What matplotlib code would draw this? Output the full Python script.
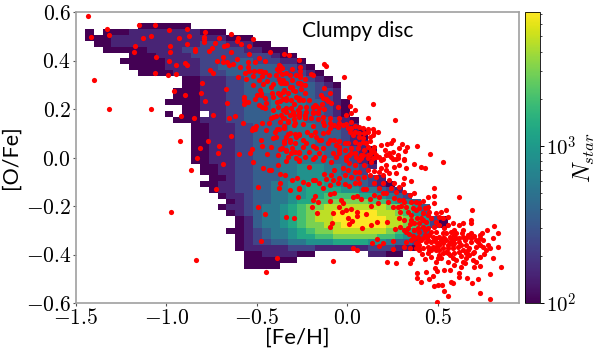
import numpy as np
import matplotlib
matplotlib.use('Agg')
import matplotlib.pyplot as plt
from matplotlib.colors import LogNorm

plt.rcParams['mathtext.fontset'] = 'cm'
plt.rcParams['font.family'] = 'Lato'

# 2d histogram: first column of each row and colour level per cell, top row first
# levels are tenths of the colourbar, x = top, . = empty
row_start = [6, 0, 0, 1, 2, 5, 4, 5, 6, 11, 11, 10, 10, 9, 11, 9, 10, 12, 12, 12, 12,
             12, 12, 12, 13, 13, 14, 13, 14, 15, 16, 15, 16, 17, 17, 16, 17, 17, 17, 18, 18, 18]
row_levels = [
    "000000",
    "0.00011111111000",
    "0001111111111111000",
    "00111111111122211100",
    "000001111222222211000",
    "0001111222222222100",
    "000001111222233222110",
    "000011112233333332210",
    "000011122233333332210",
    "00111223333333210",
    "001112233444333210",
    "0001112233444433221",
    "0001112233344433221",
    "000011122333444433210",
    "0011122333444433210",
    "0.00.1122333444333210",
    "000111223333444333210",
    "0011122333344433221",
    "00111223333444333210",
    "00111223333444333210",
    "00111223333444333211",
    "001112233334444333210",
    "001112233344444333210",
    "001112233344444433210",
    "00112233344555443321",
    "0011223334455544332",
    "00122333445555443321",
    "0011223344556655443210",
    "0112233445566665544321",
    "0112334455667777665432",
    "0123344566778888776543",
    "011234456788999999988753",
    "012344567899xxxxx998753",
    "01344567899xxxxxx9987520",
    "013445678899xxxxx9987520",
    "00123445678899999987643",
    "0123445667788888776543",
    "012233445556666554332",
    "011111222111111222110",
    "00111100......1100",
    "000000",
    "0000",
]

# stars on the upper ridge
fe_h_ridge = [-1.431, -1.418, -1.403, -1.315, -1.331, -1.318, -1.153, -1.062, -0.985, -0.889,
              -0.874, -0.930, -1.084, -1.132, -1.173, -1.178, -1.060, -1.062, -0.989, -0.946,
              -0.987, -0.983, -0.981, -0.948, -0.895, -0.886, -1.088, -0.961, -0.895, -0.803,
              -0.812, -0.786, -0.919, -0.849, -0.742, -0.928, -0.886, -0.843, -0.841, -0.795,
              -0.788, -0.792, -0.790, -0.764, -0.747, -0.731, -0.712, -0.642, -0.606, -0.613,
              -0.587, -0.521, -0.543, -0.543, -0.681, -0.664, -0.642, -0.429, -0.348, -0.322,
              -0.722, -0.688, -0.685, -0.664, -0.655, -0.633, -0.611, -0.593, -0.757, -0.742,
              -0.670, -0.666, -0.652, -0.620, -0.578, -0.644, -0.769, -0.814, -0.709, -0.716,
              -0.834, -0.604, -0.558, -0.565, -0.548, -0.547, -0.510, -0.491, -0.458, -0.545,
              -0.519, -0.521, -0.523, -0.467, -0.447, -0.488, -0.475, -0.458, -0.473, -0.410,
              -0.423, -0.388, -0.375, -0.364, -0.309, -0.267, -0.574, -0.572, -0.570, -0.547,
              -0.513, -0.501, -0.478, -0.482, -0.475, -0.453, -0.419, -0.388, -0.372, -0.355,
              -0.302, -0.348, -0.327, -0.366, -0.351, -0.338, -0.309, -0.379, -0.488, -0.473,
              -0.458, -0.412, -0.384, -0.338, -0.294, -0.410, -0.421, -0.394, -0.368, -0.353,
              -0.320, -0.298, -0.270, -0.471, -0.504, -0.521, -0.526, -0.513, -0.449, -0.388,
              -0.379, -0.353, -0.348, -0.475, -0.471, -0.414, -0.397, -0.353, -0.338, -0.329,
              -0.316, -0.289, -0.270, -0.372, -0.338, -0.526, -0.541, -0.598, -0.445, -0.289,
              -0.270]
o_fe_ridge = [0.585, 0.495, 0.320, 0.199, 0.528, 0.504, 0.545, 0.548, 0.526, 0.528,
              0.502, 0.494, 0.502, 0.494, 0.458, 0.435, 0.413, 0.348, 0.341, 0.346,
              0.396, 0.460, 0.436, 0.380, 0.390, 0.380, 0.199, 0.274, 0.256, 0.306,
              0.266, 0.233, 0.172, 0.163, 0.175, 0.067, 0.469, 0.447, 0.439, 0.498,
              0.516, 0.487, 0.476, 0.440, 0.453, 0.472, 0.494, 0.509, 0.493, 0.482,
              0.467, 0.490, 0.458, 0.428, 0.461, 0.464, 0.435, 0.435, 0.428, 0.423,
              0.398, 0.416, 0.395, 0.392, 0.380, 0.387, 0.405, 0.375, 0.362, 0.350,
              0.284, 0.223, 0.163, 0.171, 0.141, 0.087, 0.067, 0.040, 0.049, 0.017,
              -0.002, 0.330, 0.325, 0.348, 0.375, 0.394, 0.392, 0.410, 0.398, 0.358,
              0.355, 0.337, 0.298, 0.304, 0.317, 0.355, 0.355, 0.354, 0.336, 0.303,
              0.289, 0.365, 0.377, 0.344, 0.364, 0.402, 0.248, 0.237, 0.222, 0.230,
              0.241, 0.258, 0.266, 0.277, 0.258, 0.247, 0.265, 0.230, 0.233, 0.240,
              0.278, 0.278, 0.267, 0.306, 0.306, 0.306, 0.320, 0.324, 0.215, 0.209,
              0.203, 0.196, 0.207, 0.205, 0.219, 0.168, 0.164, 0.170, 0.175, 0.161,
              0.175, 0.175, 0.178, 0.141, 0.128, 0.120, 0.113, 0.116, 0.113, 0.116,
              0.116, 0.130, 0.120, 0.072, 0.049, 0.082, 0.086, 0.068, 0.083, 0.095,
              0.100, 0.095, 0.093, 0.034, 0.027, 0.034, 0.017, 0.014, 0.014, 0.024,
              0.020]

# stars around the clump, left side and far outliers
fe_h_left = [-0.687, -0.867, -0.521, -0.464, -0.434, -0.423, -0.381, -0.340, -0.268, -0.372,
             -0.344, -0.370, -0.309, -0.281, -0.729, -0.495, -0.379, -0.318, -0.268, -0.272,
             -0.976, -0.493, -0.453, -0.342, -0.298, -0.480, -0.388, -0.838, -0.449]
o_fe_left = [-0.027, -0.050, -0.017, -0.043, -0.052, -0.053, -0.032, -0.014, -0.010, -0.069,
             -0.072, -0.105, -0.091, -0.086, -0.131, -0.120, -0.127, -0.133, -0.130, -0.163,
             -0.223, -0.206, -0.233, -0.244, -0.250, -0.344, -0.415, -0.424, -0.471]

# upper middle of the ridge down to solar [O/Fe]
fe_h_mid = [-0.127, -0.120, -0.017, 0.140, 0.007, 0.039, 0.112, 0.262, 0.387, 0.455,
            0.330, 0.304, 0.317, 0.287, 0.252, 0.241, 0.217, 0.186, 0.142, 0.112,
            0.170, 0.149, 0.142, -0.260, -0.261, -0.376, -0.256, -0.232, -0.260, -0.289,
            -0.256, -0.232, -0.260, -0.228, -0.191, -0.173, -0.142, -0.127, -0.090, -0.118,
            -0.109, -0.096, -0.127, -0.191, -0.201, -0.232, -0.191, -0.164, -0.133, -0.099,
            -0.048, -0.053, -0.007, 0.020, 0.015, -0.048, -0.007, 0.020, 0.044, 0.066,
            0.085, 0.112, -0.293, -0.243, -0.191, -0.127, 0.002, -0.099, -0.265, -0.225,
            -0.182, -0.158, -0.145, -0.099, -0.072, -0.044, -0.016, 0.015, 0.033, 0.063,
            0.085, 0.100, 0.125, 0.149, -0.306, -0.269, -0.191, -0.109, -0.136, -0.210,
            -0.158, -0.081, -0.044, -0.016, 0.020, 0.066, 0.094, 0.122, 0.149, 0.205,
            0.232, -0.007, 0.076, 0.278, 0.315]
o_fe_mid = [0.385, 0.376, 0.331, 0.219, 0.249, 0.197, 0.163, 0.153, 0.047, 0.013,
            0.045, 0.054, 0.027, 0.039, 0.071, 0.061, 0.055, 0.050, 0.116, 0.119,
            0.105, 0.105, 0.093, 0.373, 0.355, 0.358, 0.302, 0.299, 0.309, 0.275,
            0.281, 0.265, 0.210, 0.207, 0.210, 0.212, 0.219, 0.199, 0.223, 0.242,
            0.233, 0.265, 0.285, 0.340, 0.344, 0.175, 0.182, 0.182, 0.168, 0.161,
            0.164, 0.207, 0.175, 0.182, 0.212, 0.144, 0.138, 0.148, 0.130, 0.124,
            0.120, 0.106, 0.134, 0.137, 0.130, 0.134, 0.120, 0.120, 0.097, 0.106,
            0.106, 0.072, 0.072, 0.072, 0.072, 0.069, 0.058, 0.106, 0.093, 0.086,
            0.079, 0.058, 0.069, 0.044, 0.038, 0.024, 0.049, 0.058, 0.038, 0.024,
            0.017, 0.017, 0.031, 0.031, 0.038, 0.055, 0.031, 0.014, 0.024, 0.031,
            0.017, 0.003, 0.010, -0.003, -0.007]

# stars over the clump and its right edge
fe_h_clump = [0.527, 0.370, 0.404, 0.426, 0.315, 0.269, 0.324, 0.269, 0.315, 0.352,
              0.306, 0.260, 0.232, 0.287, 0.214, 0.186, 0.177, 0.149, 0.214, 0.112,
              0.066, 0.039, 0.002, -0.026, 0.066, -0.007, 0.112, 0.085, -0.191, -0.265,
              -0.210, -0.136, -0.091, -0.072, -0.127, -0.091, -0.118, -0.191, -0.182, -0.247,
              -0.219, -0.265, -0.136, -0.053, -0.016, 0.011, 0.066, 0.103, 0.085, -0.072,
              -0.099, -0.182, -0.191, -0.164, -0.099, -0.035, -0.026, 0.030, 0.054, 0.076,
              0.122, 0.177, 0.149, 0.177, 0.195, 0.168, 0.223, 0.131, -0.195, -0.169,
              -0.081, -0.044, -0.029, -0.007, 0.020, 0.054, 0.054, 0.100, 0.002, 0.026,
              0.007, -0.087, -0.096, 0.081, 0.131, 0.162, 0.219, 0.278, 0.297, 0.291,
              0.334, 0.352, 0.385, 0.348, 0.265, 0.291, 0.310, 0.321, 0.339, 0.361,
              0.162, 0.137, 0.195, 0.173, 0.033, 0.054, 0.251, 0.251, 0.310, 0.343,
              0.380, -0.079, 0.219, 0.269, 0.343, 0.357, 0.413, 0.426, 0.416, 0.444,
              0.481, 0.481, 0.481, 0.619, 0.689, 0.306, 0.315, 0.352, 0.380, 0.398]
o_fe_clump = [-0.020, -0.027, -0.038, -0.042, -0.010, -0.008, -0.045, -0.065, -0.086, -0.096,
              -0.111, -0.107, -0.093, -0.120, -0.031, -0.045, -0.059, -0.056, -0.052, -0.052,
              -0.059, -0.059, -0.052, -0.045, -0.010, -0.010, 0.010, 0.010, -0.008, -0.015,
              -0.038, -0.010, -0.017, -0.052, -0.068, -0.072, -0.090, -0.093, -0.093, -0.102,
              -0.111, -0.127, -0.127, -0.107, -0.111, -0.118, -0.107, -0.131, -0.131, -0.148,
              -0.151, -0.157, -0.175, -0.182, -0.178, -0.175, -0.189, -0.162, -0.159, -0.173,
              -0.173, -0.127, -0.155, -0.162, -0.148, -0.189, -0.182, -0.199, -0.203, -0.230,
              -0.230, -0.205, -0.226, -0.217, -0.214, -0.223, -0.240, -0.233, -0.251, -0.262,
              -0.274, -0.272, -0.288, -0.289, -0.278, -0.265, -0.265, -0.203, -0.199, -0.226,
              -0.223, -0.237, -0.251, -0.274, -0.296, -0.285, -0.299, -0.306, -0.316, -0.324,
              -0.338, -0.354, -0.354, -0.364, -0.372, -0.382, -0.344, -0.379, -0.368, -0.375,
              -0.375, -0.428, -0.430, -0.435, -0.437, -0.420, -0.398, -0.417, -0.178, -0.164,
              -0.124, -0.159, -0.189, -0.164, -0.217, -0.175, -0.182, -0.182, -0.182, -0.189]

# metal rich tail
fe_h_tail = [0.426, 0.444, 0.416, 0.444, 0.407, 0.435, 0.453, 0.490, 0.518, 0.545,
             0.508, 0.555, 0.582, 0.527, 0.416, 0.444, 0.462, 0.398, 0.426, 0.389,
             0.407, 0.435, 0.398, 0.444, 0.462, 0.490, 0.508, 0.536, 0.564, 0.591,
             0.619, 0.637, 0.683, 0.683, 0.634, 0.665, 0.702, 0.730, 0.744, 0.770,
             0.812, 0.831, 0.803, 0.776, 0.789, 0.831, 0.730, 0.711, 0.683, 0.647,
             0.619, 0.591, 0.564, 0.527, 0.499, 0.472, 0.490, 0.527, 0.555, 0.582,
             0.610, 0.637, 0.665, 0.702, 0.757, 0.803, 0.730, 0.693, 0.656, 0.628,
             0.591, 0.564, 0.527, 0.499, 0.462, 0.490, 0.518, 0.555, 0.591, 0.628,
             0.647, 0.702, 0.730, 0.849, 0.785, 0.619, 0.567, 0.536, 0.486, 0.494,
             0.435, 0.387, 0.383, 0.407, 0.448, 0.472, 0.573, 0.586, 0.619, 0.661,
             0.689, 0.724, 0.477, 0.499, 0.523, 0.536, 0.553, 0.730, 0.785, 0.494,
             0.545, 0.573, 0.601, 0.628, 0.656, 0.674, 0.720, 0.748, 0.490, 0.518,
             0.555, 0.582, 0.426, 0.389, 0.453, 0.508, 0.545, 0.601, 0.674, 0.711,
             0.637, 0.582]
o_fe_tail = [-0.210, -0.203, -0.230, -0.237, -0.251, -0.265, -0.223, -0.230, -0.223, -0.217,
             -0.244, -0.244, -0.272, -0.251, -0.285, -0.292, -0.306, -0.306, -0.320, -0.327,
             -0.340, -0.347, -0.361, -0.368, -0.347, -0.333, -0.327, -0.333, -0.327, -0.320,
             -0.278, -0.269, -0.258, -0.272, -0.313, -0.320, -0.324, -0.333, -0.310, -0.299,
             -0.281, -0.313, -0.333, -0.361, -0.375, -0.368, -0.361, -0.368, -0.347, -0.340,
             -0.333, -0.354, -0.347, -0.354, -0.354, -0.368, -0.382, -0.375, -0.375, -0.375,
             -0.368, -0.382, -0.382, -0.388, -0.398, -0.416, -0.409, -0.423, -0.416, -0.406,
             -0.395, -0.402, -0.395, -0.416, -0.412, -0.430, -0.416, -0.430, -0.443, -0.450,
             -0.437, -0.450, -0.448, -0.453, -0.481, -0.475, -0.464, -0.464, -0.454, -0.467,
             -0.472, -0.475, -0.496, -0.514, -0.503, -0.489, -0.512, -0.519, -0.492, -0.497,
             -0.519, -0.501, -0.530, -0.527, -0.526, -0.552, -0.570, -0.558, -0.585, -0.595,
             -0.313, -0.306, -0.333, -0.361, -0.361, -0.375, -0.347, -0.340, -0.347, -0.340,
             -0.361, -0.340, -0.299, -0.347, -0.382, -0.402, -0.388, -0.423, -0.402, -0.430,
             -0.430, -0.416]

# second reading of the dense parts
fe_h_dense1 = [-0.376, -0.361, -0.320, -0.261, -0.357, -0.372, -0.261, -0.232, -0.306, -0.354,
               -0.372, -0.339, -0.311, -0.269, -0.247, -0.210, -0.145, -0.136, -0.182, -0.155,
               -0.164, -0.191, -0.228, -0.265, -0.302, -0.339, -0.357, -0.330, -0.293, -0.265,
               -0.237, -0.201, -0.164, -0.136, -0.099, -0.072, -0.053, -0.026, 0.020, 0.039,
               0.066, 0.094, 0.122, -0.109, -0.136, -0.173, -0.201, -0.247, -0.284, -0.320,
               -0.348, -0.361, -0.339, -0.311, -0.247, -0.228, -0.173, -0.062, -0.044, 0.002,
               0.039, 0.057, 0.085, 0.112, 0.131, 0.159, 0.177, 0.214, 0.241, 0.039,
               0.011, -0.062, -0.127, -0.182, -0.237, -0.284, -0.330, 0.112, 0.140, 0.195,
               0.250]
o_fe_dense1 = [0.381, 0.368, 0.340, 0.340, 0.319, 0.313, 0.331, 0.322, 0.289, 0.271,
               0.258, 0.237, 0.237, 0.244, 0.237, 0.237, 0.258, 0.244, 0.216, 0.203,
               0.189, 0.189, 0.189, 0.189, 0.189, 0.189, 0.161, 0.152, 0.157, 0.168,
               0.161, 0.161, 0.157, 0.148, 0.141, 0.134, 0.127, 0.134, 0.120, 0.106,
               0.102, 0.100, 0.086, 0.106, 0.100, 0.086, 0.093, 0.072, 0.086, 0.072,
               0.058, 0.038, 0.031, 0.017, 0.044, 0.058, 0.038, 0.051, 0.044, 0.058,
               0.065, 0.038, 0.065, 0.044, 0.031, 0.010, 0.003, 0.010, 0.003, 0.017,
               0.010, 0.003, 0.003, 0.001, 0.003, -0.004, 0.003, -0.004, -0.004, -0.008,
               -0.008]
fe_h_dense2 = [-0.044, 0.020, 0.048, 0.076, 0.011, 0.039, 0.094, 0.131, 0.159, 0.186,
               0.232, 0.251, 0.278, 0.287, 0.260, 0.232, 0.195, 0.159, 0.122, 0.094,
               0.057, 0.020, -0.016, -0.044, -0.081, -0.099, -0.155, 0.039, 0.149, 0.195,
               0.241, 0.269, 0.315, 0.343, 0.370, 0.214, 0.260, 0.287, 0.251, 0.324,
               0.361, 0.380, 0.398, 0.352, 0.370, 0.315, 0.287, 0.398, 0.416, 0.462,
               0.490, 0.481, 0.508, 0.536, 0.555, 0.490, 0.527, 0.370, 0.389, 0.334,
               0.352, 0.380, 0.416, 0.444, 0.398, 0.462, 0.435, 0.490, 0.508, 0.555,
               0.619, 0.656, 0.693, 0.766, 0.748, 0.711, 0.683, 0.637, 0.601, 0.573,
               0.545, 0.508, 0.481, 0.444, 0.453, 0.472, 0.527, 0.582, 0.619, 0.656,
               0.730, 0.683, 0.637, 0.591, 0.416, 0.389, 0.370, 0.324]
o_fe_dense2 = [0.017, 0.017, 0.003, -0.003, -0.024, -0.031, -0.031, -0.017, 0.003, -0.010,
               0.010, 0.024, 0.010, -0.031, -0.038, -0.065, -0.072, -0.079, -0.072, -0.079,
               -0.086, -0.079, -0.072, -0.086, -0.093, -0.113, -0.107, -0.107, -0.107, -0.107,
               -0.127, -0.141, -0.141, -0.155, -0.148, -0.148, -0.168, -0.175, -0.203, -0.203,
               -0.210, -0.217, -0.210, -0.258, -0.272, -0.258, -0.251, -0.272, -0.258, -0.251,
               -0.265, -0.285, -0.278, -0.292, -0.278, -0.306, -0.313, -0.299, -0.292, -0.292,
               -0.340, -0.354, -0.375, -0.395, -0.382, -0.382, -0.327, -0.368, -0.382, -0.395,
               -0.388, -0.395, -0.395, -0.382, -0.368, -0.340, -0.333, -0.327, -0.313, -0.333,
               -0.340, -0.361, -0.340, -0.340, -0.320, -0.327, -0.333, -0.361, -0.347, -0.333,
               -0.320, -0.313, -0.299, -0.299, -0.333, -0.368, -0.333, -0.347]
fe_h_dense3 = [-0.486, -0.434, -0.394, -0.338, -0.283, -0.274, -0.320, -0.384, -0.449, -0.338,
               -0.283, -0.265, -0.412, -0.357, -0.311, -0.274, -0.431, -0.375, -0.329, -0.292,
               -0.403, -0.421, -0.320, -0.292, -0.384]
o_fe_dense3 = [0.320, 0.340, 0.340, 0.347, 0.340, 0.306, 0.292, 0.265, 0.223, 0.244,
               0.251, 0.237, 0.251, 0.196, 0.203, 0.196, 0.141, 0.148, 0.148, 0.141,
               0.106, 0.044, 0.065, 0.058, 0.010]

xticks = [-1.5, -1.0, -0.5, 0.0, 0.5]
yticks = [-0.6, -0.4, -0.2, 0.0, 0.2, 0.4, 0.6]
n_min, n_max = 1e2, 7160

W, H = 598, 357
fig = plt.figure(figsize=(W / 100, H / 100), dpi=100)
ax = fig.add_axes([76 / W, 1 - 303 / H, (519 - 76) / W, (303 - 12) / H])
cax = fig.add_axes([525 / W, 1 - 303 / H, 15 / W, (303 - 12) / H])

# bin edges of the histogram
nrow = len(row_levels)
ncol = 42
x_edges = -1.451 + 0.0489 * np.arange(ncol + 1)
y_edges = 0.553 - 0.02408 * np.arange(nrow + 1)

counts = np.full((nrow, ncol), np.nan)
for r, (c0, levels) in enumerate(zip(row_start, row_levels)):
    for i, ch in enumerate(levels):
        if ch == '.':
            continue
        lev = 10 if ch == 'x' else int(ch)
        counts[r, c0 + i] = n_min * (n_max / n_min) ** (lev / 10)

norm = LogNorm(vmin=n_min, vmax=n_max)
mesh = ax.pcolormesh(x_edges, y_edges, counts, cmap='viridis', norm=norm)

fe_h = fe_h_ridge + fe_h_left + fe_h_mid + fe_h_clump + fe_h_tail + fe_h_dense1 + fe_h_dense2 + fe_h_dense3
o_fe = o_fe_ridge + o_fe_left + o_fe_mid + o_fe_clump + o_fe_tail + o_fe_dense1 + o_fe_dense2 + o_fe_dense3
ax.scatter(fe_h, o_fe, s=14, c='red', linewidths=0, zorder=3)

ax.set_xlim(-1.5, 0.948)
ax.set_ylim(-0.6, 0.6)
ax.set_xticks(xticks)
ax.set_xticklabels(['$%.1f$' % v for v in xticks], fontsize=15.5)
ax.set_yticks(yticks)
ax.set_yticklabels(['$%.1f$' % v for v in yticks], fontsize=15.5)
ax.tick_params(length=2, width=0.8, color='#555555', pad=1.5)
for s in ax.spines.values():
    s.set_color('#a0a0a0')
    s.set_linewidth(1.2)

ax.set_xlabel('[Fe/H]', fontsize=16, labelpad=0)
ax.set_ylabel('[O/Fe]', fontsize=15.5)
ax.yaxis.set_label_coords(-0.124, 0.5)
ax.text(-0.25, 0.52, 'Clumpy disc', fontsize=15, va='center', ha='left')

cb = fig.colorbar(mesh, cax=cax)
cb.set_ticks([1e2, 1e3])
cb.set_ticklabels(['$10^{2}$', '$10^{3}$'], fontsize=15)
cb.ax.tick_params(which='major', length=3, width=0.7, pad=1.5)
cb.ax.tick_params(which='minor', length=1.5, width=0.5)
cb.outline.set_linewidth(0.6)
cb.set_label('$N_{star}$', fontsize=17, va='center')
cb.ax.yaxis.set_label_coords(3.95, 0.5)

fig.savefig('out.png', dpi=100)
